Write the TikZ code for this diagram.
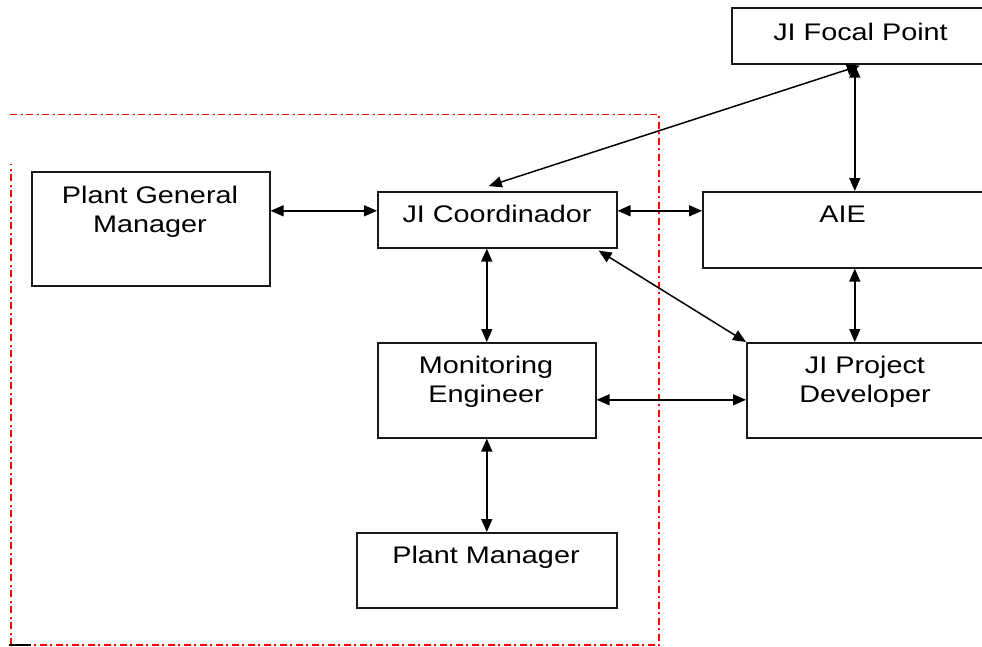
\documentclass[tikz,border=0pt]{standalone}
\usepackage{fontspec}
\setmainfont{Liberation Sans}[FakeStretch=1.2]
\usetikzlibrary{arrows.meta}
\begin{document}
\begin{tikzpicture}[x=1pt,y=-1pt,
  box/.style={draw=black!90, line width=1.6pt, inner sep=0pt, anchor=north west},
  lbl/.style={anchor=base, inner sep=0pt, font=\fontsize{24}{29}\selectfont},
  arr/.style={line width=1.5pt, {Triangle[length=13pt,width=11pt]}-{Triangle[length=13pt,width=11pt]}},
  frameline/.style={red, line width=1.6pt, dash pattern=on 7pt off 3.5pt on 2pt off 3.5pt}]
\useasboundingbox (0,0) rectangle (982,646);

% red dash-dot frame
\draw[frameline] (10,114.5) -- (659,114.5) -- (659,645) -- (24,645);
\draw[frameline] (11,645) -- (11,164);
\draw[line width=1.6pt] (9,645) -- (31,645);

% boxes
\node[box, minimum width=259pt, minimum height=56pt] (focal) at (731,7) {};
\node[box, minimum width=238pt, minimum height=114pt] (pgm) at (31,171) {};
\node[box, minimum width=239pt, minimum height=56pt] (jic) at (377,191) {};
\node[box, minimum width=281pt, minimum height=76pt] (aie) at (702,191) {};
\node[box, minimum width=218pt, minimum height=95pt] (me) at (377,342) {};
\node[box, minimum width=238pt, minimum height=95pt] (jipd) at (746,342) {};
\node[box, minimum width=260pt, minimum height=75pt] (pm) at (356,532) {};

% labels
\node[lbl] (focalt) at (860.5,40) {JI Focal Point};
\node[lbl] (pgmt1) at (150,203) {Plant General};
\node[lbl] (pgmt2) at (150,232) {Manager};
\node[lbl] (jict) at (497,222) {JI Coordinador};
\node[lbl] (aiet) at (842.5,222) {AIE};
\node[lbl] (met1) at (486,373) {Monitoring};
\node[lbl] (met2) at (486,402) {Engineer};
\node[lbl] (jipdt1) at (865,373) {JI Project};
\node[lbl] (jipdt2) at (865,402) {Developer};
\node[lbl] (pmt) at (486,563) {Plant Manager};

% connectors
\draw[arr] ([yshift=9pt]jic.west -| pgm.east) -- ([yshift=9pt]jic.west);
\draw[arr] ([yshift=9pt]jic.east) -- ([yshift=9pt]jic.east -| aie.west);
\draw[arr] ([xshift=-6.5pt]focal.south) -- ([xshift=-6.5pt]focal.south |- aie.north);
\draw[arr] ([xshift=-1.5pt,yshift=-1pt]focal.south) -- ([xshift=-8.5pt,yshift=5pt]jic.north);
\draw[arr] (me.north |- jic.south) -- (me.north);
\draw[arr] (me.south) -- (me.south |- pm.north);
\draw[arr] ([yshift=-9.5pt]me.east) -- ([yshift=-9.5pt]me.east -| jipd.west);
\draw[arr] ([xshift=-11pt]jipd.north |- aie.south) -- ([xshift=-11pt]jipd.north);
\draw[arr] ([xshift=-19pt,yshift=-2pt]jic.south east) -- (jipd.north west);
\end{tikzpicture}
\end{document}
